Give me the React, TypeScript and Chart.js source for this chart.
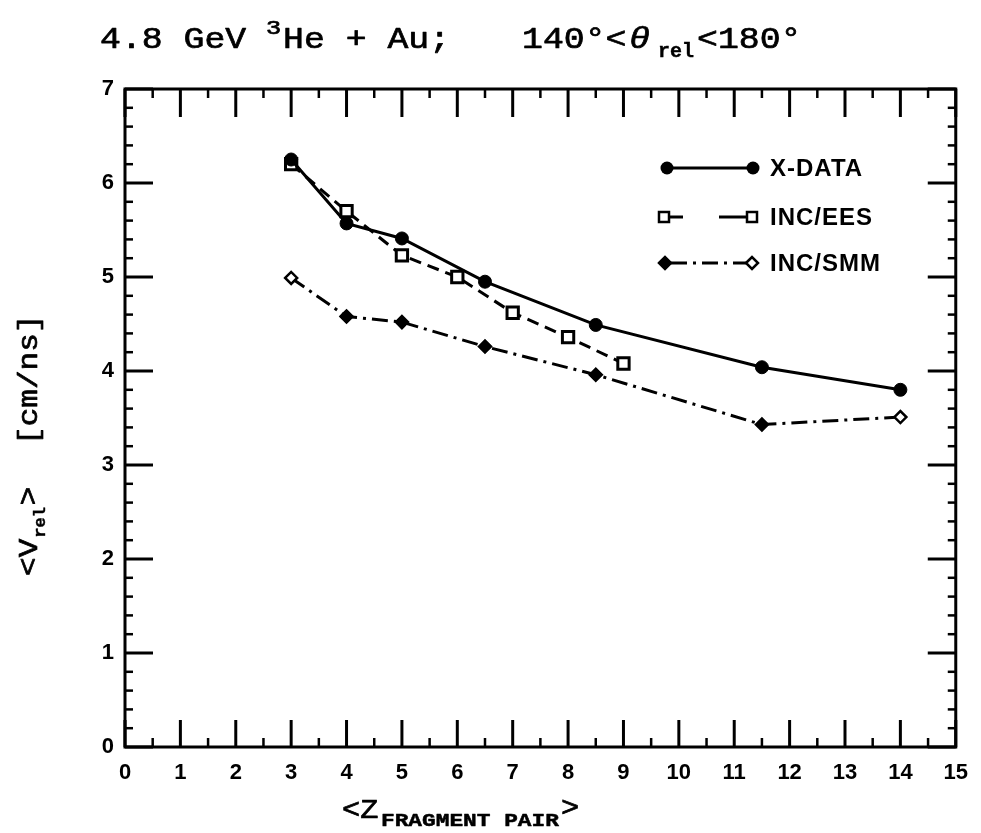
import React, { useEffect, useRef } from "react";
import { Chart, registerables } from "chart.js";

Chart.register(...registerables);

// ---- data ----
const xDataZ = [3, 4, 5, 6.5, 8.5, 11.5, 14];
const xDataV = [6.25, 5.57, 5.41, 4.95, 4.49, 4.04, 3.8];
const eesZ = [3, 4, 5, 6, 7, 8, 9];
const eesV = [6.2, 5.7, 5.23, 5.0, 4.62, 4.36, 4.08];
const smmZ = [3, 4, 5, 6.5, 8.5, 11.5, 14];
const smmV = [4.99, 4.58, 4.52, 4.26, 3.96, 3.43, 3.51];
const smmFilled = [false, true, true, true, true, true, false];
const seriesNames = ["X-DATA", "INC/EES", "INC/SMM"];
const xRange = [0, 15];
const yRange = [0, 7];

const W = 981;
const H = 833;
const MONO = '"Liberation Mono", "DejaVu Sans Mono", monospace';
const SANS = '"Liberation Sans", Arial, sans-serif';

function run(ctx: CanvasRenderingContext2D, text: string, x: number, y: number, font: string, sx = 1, heavy = 0.7) {
  ctx.save();
  ctx.font = font;
  ctx.translate(x, y);
  ctx.scale(sx, 1);
  ctx.textBaseline = "alphabetic";
  ctx.textAlign = "left";
  ctx.fillText(text, 0, 0);
  if (heavy > 0) {
    ctx.lineWidth = heavy;
    ctx.lineJoin = "round";
    ctx.strokeText(text, 0, 0);
  }
  const w = ctx.measureText(text).width * sx;
  ctx.restore();
  return x + w;
}

function seg(ctx: CanvasRenderingContext2D, x1: number, y1: number, x2: number, y2: number) {
  ctx.beginPath();
  ctx.moveTo(x1, y1);
  ctx.lineTo(x2, y2);
  ctx.stroke();
}

const decor = {
  id: "decor",
  beforeDatasetsDraw(chart: any) {
    const { ctx, chartArea: a, scales } = chart;
    const xs = scales.x;
    const ys = scales.y;
    ctx.save();
    ctx.strokeStyle = "#000";
    ctx.lineCap = "butt";
    ctx.lineWidth = 3;
    ctx.strokeRect(a.left, a.top, a.right - a.left, a.bottom - a.top);
    for (let k = xRange[0] * 2; k <= xRange[1] * 2; k++) {
      const px = xs.getPixelForValue(k / 2);
      const major = k % 2 === 0;
      ctx.lineWidth = major ? 3 : 2.5;
      seg(ctx, px, a.bottom, px, a.bottom - (major ? 27 : 9));
      seg(ctx, px, a.top, px, a.top + (major ? 28 : 9));
    }
    for (let k = yRange[0] * 5; k <= yRange[1] * 5; k++) {
      const py = ys.getPixelForValue(k / 5);
      const major = k % 5 === 0;
      ctx.lineWidth = major ? 3 : 2.5;
      const len = major ? 28 : 8;
      seg(ctx, a.left, py, a.left + len, py);
      seg(ctx, a.right, py, a.right - len, py);
    }
    ctx.restore();
  },
  afterDraw(chart: any) {
    const { ctx } = chart;
    ctx.save();
    ctx.fillStyle = "#000";
    ctx.strokeStyle = "#000";

    // ---- top title ----
    const f28 = `29px ${MONO}`;
    run(ctx, "4.8 GeV", 100, 48, f28, 1.2);
    run(ctx, "3", 266, 34, `21px ${MONO}`, 1.2);
    run(ctx, "He + Au;", 283, 48, f28, 1.2);
    run(ctx, "140°<", 522, 48, f28, 1.2);
    run(ctx, "θ", 629, 48, `italic 29px ${MONO}`, 1.2);
    run(ctx, "rel", 658, 57, `bold 20px ${MONO}`, 1.0, 0.4);
    run(ctx, "<180°", 697, 48, f28, 1.2);

    // ---- x axis title ----
    run(ctx, "<Z", 342, 818, `27px ${MONO}`, 1.12);
    run(ctx, "FRAGMENT PAIR", 381, 826, `bold 19px ${MONO}`, 1.2, 0.5);
    run(ctx, ">", 561, 816, `27px ${MONO}`, 1.12);

    // ---- y axis title (rotated) ----
    ctx.save();
    ctx.translate(37, 576);
    ctx.rotate(-Math.PI / 2);
    const f26 = `27px ${MONO}`;
    let u = run(ctx, "<V", 0, 0, f26, 1.15);
    u = run(ctx, "rel", u + 1, 8, `bold 17px ${MONO}`, 1.0, 0.4);
    run(ctx, ">", u + 2, 0, f26, 1.15);
    run(ctx, "[cm/ns]", 131, 0, f26, 1.15);
    ctx.restore();

    // ---- legend ----
    const lx1 = 667;
    const lx2 = 753;
    const rows = [168, 217, 263];
    const tx = 770;
    // X-DATA
    ctx.lineWidth = 3;
    ctx.setLineDash([]);
    seg(ctx, lx1, rows[0], lx2, rows[0]);
    for (const cx of [lx1, lx2]) {
      ctx.beginPath();
      ctx.arc(cx, rows[0], 6.5, 0, Math.PI * 2);
      ctx.fill();
    }
    // INC/EES
    ctx.lineWidth = 3;
    seg(ctx, 669, rows[1], 683, rows[1]);
    seg(ctx, 719, rows[1], 747, rows[1]);
    ctx.lineWidth = 2.5;
    for (const cx of [664, 752]) {
      ctx.fillStyle = "#fff";
      ctx.fillRect(cx - 5, rows[1] - 5, 10, 10);
      ctx.strokeRect(cx - 5, rows[1] - 5, 10, 10);
    }
    ctx.fillStyle = "#000";
    // INC/SMM
    ctx.lineWidth = 3;
    ctx.setLineDash([16, 6, 3, 6]);
    seg(ctx, 671, rows[2], 746, rows[2]);
    ctx.setLineDash([]);
    ctx.lineWidth = 2.5;
    const diamond = (cx: number, cy: number, filled: boolean) => {
      ctx.beginPath();
      ctx.moveTo(cx - 6, cy);
      ctx.lineTo(cx, cy - 6);
      ctx.lineTo(cx + 6, cy);
      ctx.lineTo(cx, cy + 6);
      ctx.closePath();
      ctx.fillStyle = filled ? "#000" : "#fff";
      ctx.fill();
      ctx.stroke();
    };
    diamond(665, rows[2], true);
    diamond(752, rows[2], false);
    ctx.fillStyle = "#000";
    ctx.font = `bold 24px ${SANS}`;
    ctx.textBaseline = "middle";
    (ctx as any).letterSpacing = "1px";
    seriesNames.forEach((n, i) => ctx.fillText(n, tx, rows[i] + 1));
    ctx.restore();
  },
};

export default function App() {
  const ref = useRef<HTMLCanvasElement | null>(null);
  useEffect(() => {
    document.body.style.margin = "0";
    document.body.style.background = "#fff";
    const canvas = ref.current!;
    const tickFont = { family: SANS, weight: "bold" as const, size: 22 };
    const chart = new Chart(canvas, {
      type: "line",
      data: {
        datasets: [
          {
            label: seriesNames[0],
            data: xDataZ.map((x, i) => ({ x, y: xDataV[i] })),
            borderColor: "#000",
            backgroundColor: "#000",
            borderWidth: 3,
            pointStyle: "circle",
            pointRadius: 6.5,
            pointBackgroundColor: "#000",
            pointBorderColor: "#000",
            pointBorderWidth: 1,
            tension: 0,
          },
          {
            label: seriesNames[1],
            data: eesZ.map((x, i) => ({ x, y: eesV[i] })),
            borderColor: "#000",
            backgroundColor: "#fff",
            borderWidth: 3,
            borderDash: [12, 7],
            pointStyle: "rect",
            pointRadius: 8,
            pointBackgroundColor: "#fff",
            pointBorderColor: "#000",
            pointBorderWidth: 3,
            tension: 0,
          },
          {
            label: seriesNames[2],
            data: smmZ.map((x, i) => ({ x, y: smmV[i] })),
            borderColor: "#000",
            backgroundColor: "#fff",
            borderWidth: 3,
            borderDash: [16, 6, 3, 6],
            pointStyle: "rectRot",
            pointRadius: 6,
            pointBackgroundColor: smmFilled.map((f) => (f ? "#000" : "#fff")),
            pointBorderColor: "#000",
            pointBorderWidth: 2.5,
            tension: 0,
          },
        ],
      },
      options: {
        responsive: false,
        animation: false,
        devicePixelRatio: 1,
        layout: { padding: { top: 89, right: 19, left: 0, bottom: 0 } },
        plugins: { legend: { display: false }, tooltip: { enabled: false } },
        scales: {
          x: {
            type: "linear",
            min: xRange[0],
            max: xRange[1],
            grid: { display: false, drawTicks: false },
            border: { display: false },
            ticks: { stepSize: 1, color: "#000", font: tickFont, padding: 13, autoSkip: false, maxRotation: 0 },
            afterFit: (s: any) => {
              s.height = 86;
            },
          },
          y: {
            type: "linear",
            min: yRange[0],
            max: yRange[1],
            grid: { display: false, drawTicks: false },
            border: { display: false },
            ticks: { stepSize: 1, color: "#000", font: tickFont, padding: 11 },
            afterFit: (s: any) => {
              s.width = 125;
            },
          },
        },
      },
      plugins: [decor],
    });
    return () => chart.destroy();
  }, []);
  return (
    <div style={{ width: W, height: H }}>
      <canvas ref={ref} width={W} height={H} style={{ width: W, height: H, display: "block" }} />
    </div>
  );
}
